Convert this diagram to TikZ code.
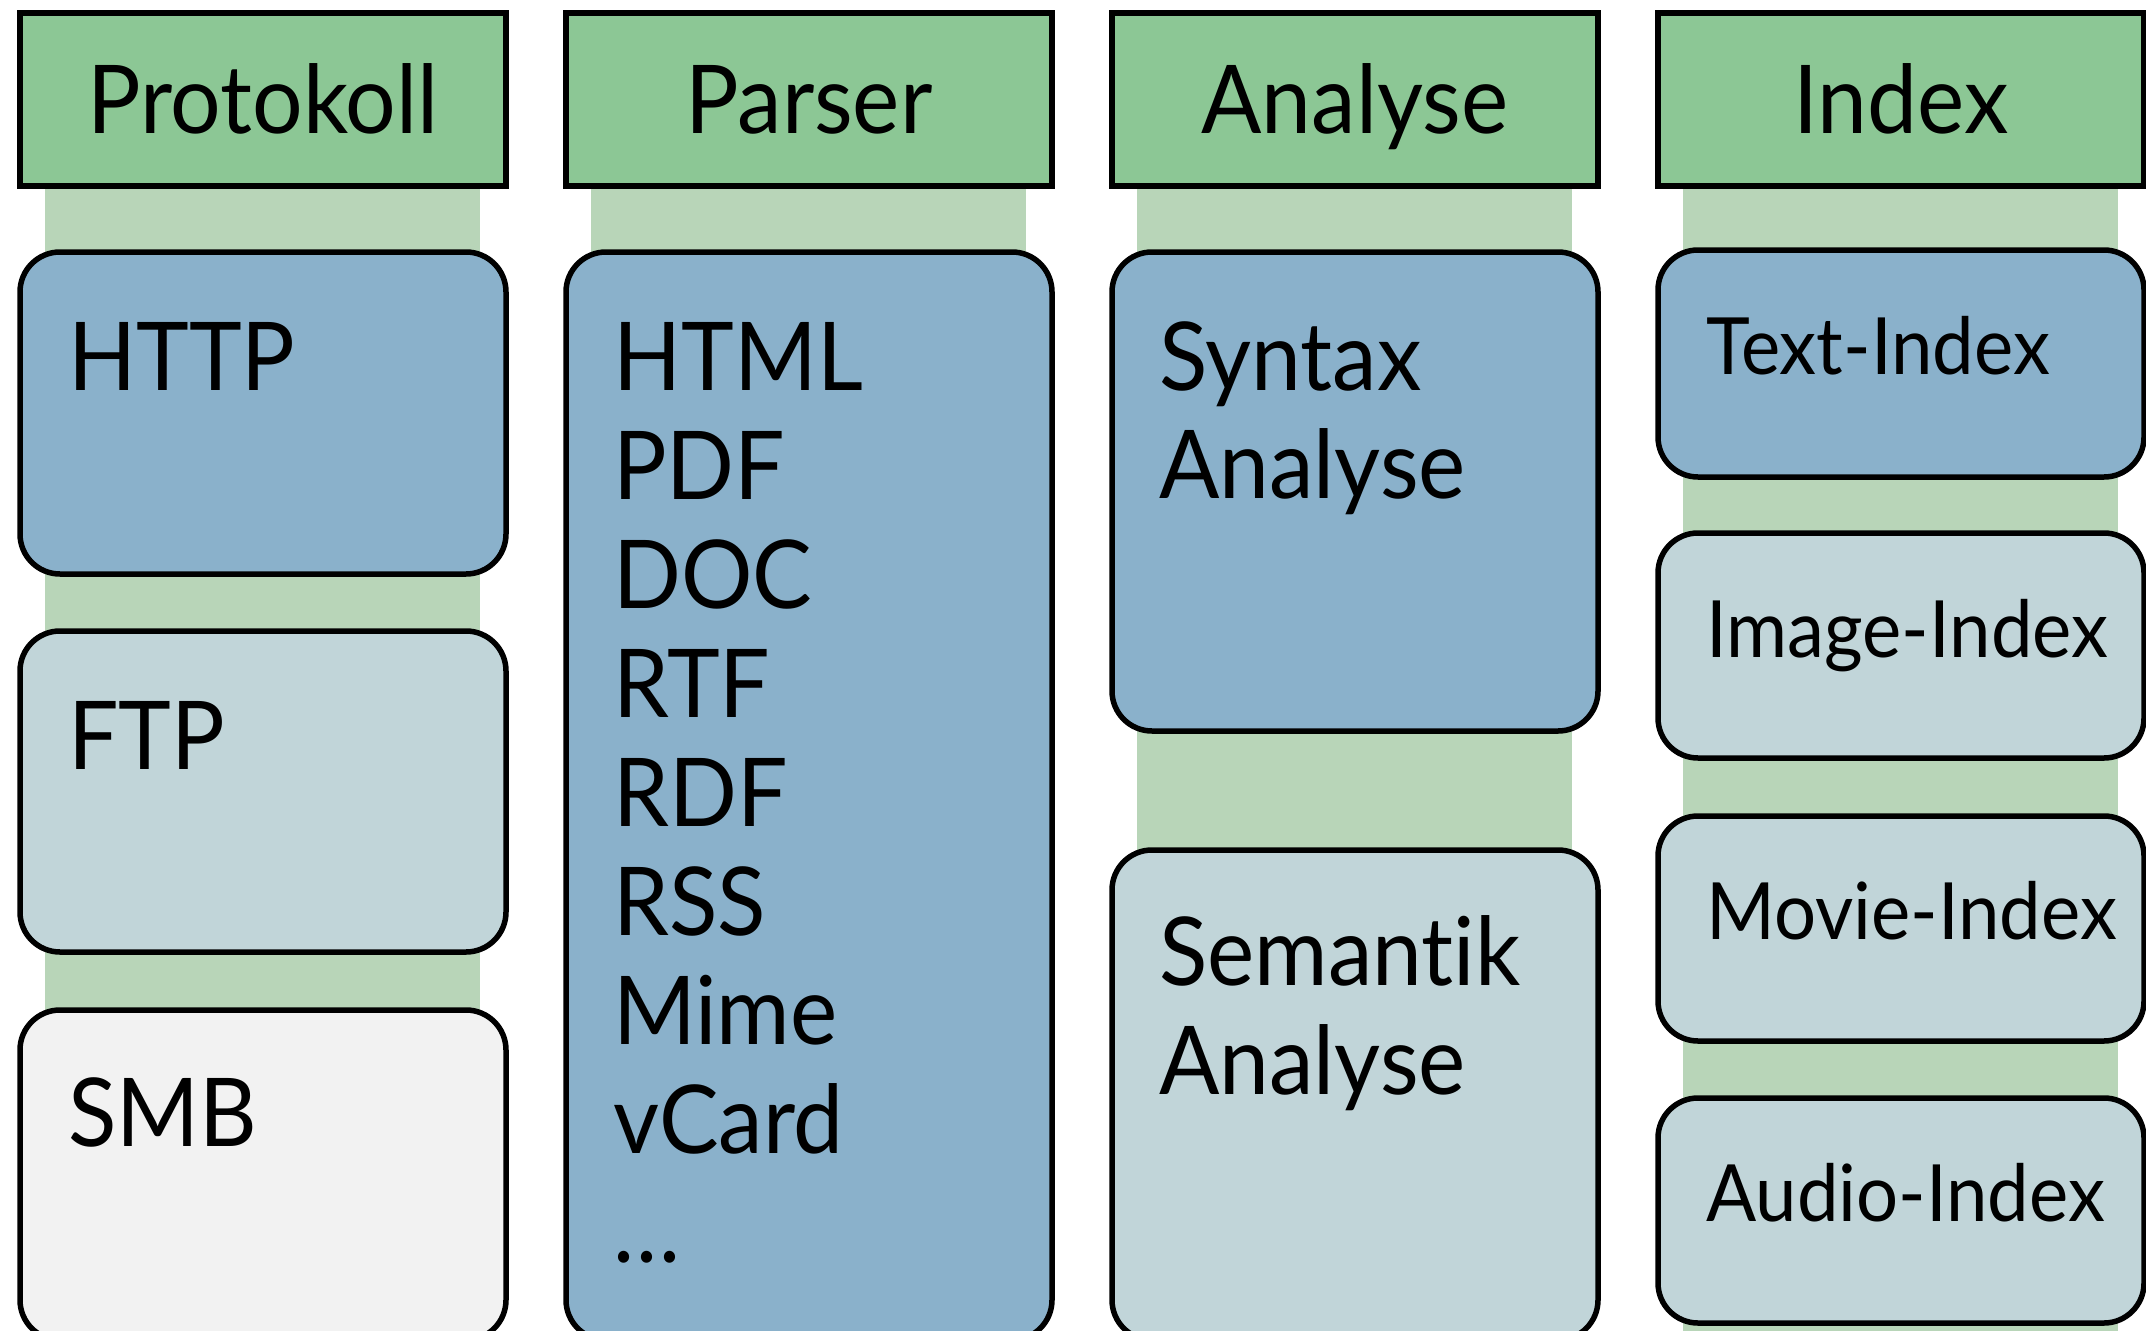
\documentclass[tikz,border=0pt]{standalone}
\usepackage{fontspec}
\setmainfont{Lato}[Ligatures={NoCommon,NoRare}, FakeStretch=0.94]
\definecolor{hdrgreen}{RGB}{140,199,149}
\definecolor{bandgreen}{RGB}{184,213,184}
\definecolor{boxblue}{RGB}{138,177,203}
\definecolor{boxpale}{RGB}{193,213,217}
\definecolor{boxgray}{RGB}{242,242,242}
\tikzset{
  head/.style={draw=black, line width=5.5pt, fill=hdrgreen, anchor=north west,
    minimum width=486pt, minimum height=173pt, inner sep=0pt, outer sep=0pt},
  card/.style={draw=black, line width=5.5pt, rounded corners=40pt, anchor=north west,
    minimum width=486pt, inner sep=0pt, outer sep=0pt},
  band/.style={fill=bandgreen},
  headtxt/.style={anchor=base, inner sep=0pt, font=\fontsize{95}{100}\selectfont},
  bigtxt/.style={anchor=base west, inner sep=0pt, font=\fontsize{95}{100}\selectfont},
  smalltxt/.style={anchor=base west, inner sep=0pt, font=\fontsize{79}{84}\selectfont},
}
\begin{document}
\begin{tikzpicture}[x=1pt,y=-1pt]
\begin{scope}
\clip (0,0) rectangle (2146,1330);
% light green bands behind each column
\foreach \cx in {20,566,1112,1658}
  \fill[band] (\cx+25,185) rectangle (\cx+460,1340);

% column headers
\node[head] (hproto) at (20,13) {};
\node[head] (hparser) at (566,13) {};
\node[head] (hanalyse) at (1112,13) {};
\node[head] (hindex) at (1658,13) {};
\node[headtxt] (tproto) at (263,133) {Protokoll};
\node[headtxt] (tparser) at (809,133) {Parser};
\node[headtxt] (tanalyse) at (1355,133) {Analyse};
\node[headtxt] (tindex) at (1901,133) {Index};

% Protokoll column
\node[card, fill=boxblue, minimum height=322pt] (http) at (20,252) {};
\node[card, fill=boxpale, minimum height=321pt] (ftp) at (20,631) {};
\node[card, fill=boxgray, minimum height=330pt] (smb) at (20,1010) {};
\node[bigtxt] (thttp) at (68,390) {HTTP};
\node[bigtxt] (tftp) at (68,769) {FTP};
\node[bigtxt] (tsmb) at (68,1146) {SMB};

% Parser column
\node[card, fill=boxblue, minimum height=1088pt] (parser) at (566,252) {};
\foreach \t [count=\i from 0] in {HTML,PDF,DOC,RTF,RDF,RSS,Mime,vCard}
  \node[bigtxt] (fmt\i) at (613,390+\i*109) {\t};
\node[bigtxt] (fmtmore) at (613,1262) {\ldots};

% Analyse column
\node[card, fill=boxblue, minimum height=479pt] (syntax) at (1112,252) {};
\node[card, fill=boxpale, minimum height=490pt] (semantik) at (1112,850) {};
\node[bigtxt] (tsyn1) at (1159,390) {Syntax};
\node[bigtxt] (tsyn2) at (1159,498) {Analyse};
\node[bigtxt] (tsem1) at (1159,985) {Semantik};
\node[bigtxt] (tsem2) at (1159,1094) {Analyse};

% Index column
\node[card, fill=boxblue, minimum height=227pt] (textidx) at (1658,250) {};
\node[card, fill=boxpale, minimum height=225pt] (imageidx) at (1658,533) {};
\node[card, fill=boxpale, minimum height=225pt] (movieidx) at (1658,816) {};
\node[card, fill=boxpale, minimum height=225pt] (audioidx) at (1658,1098) {};
\node[smalltxt] (ttext) at (1706,374) {Text-Index};
\node[smalltxt] (timage) at (1706,657) {Image-Index};
\node[smalltxt] (tmovie) at (1706,939) {Movie-Index};
\node[smalltxt] (taudio) at (1706,1221) {Audio-Index};
\end{scope}
\pgfresetboundingbox
\path[use as bounding box] (0,0) rectangle (2146,1330);
\end{tikzpicture}
\end{document}
